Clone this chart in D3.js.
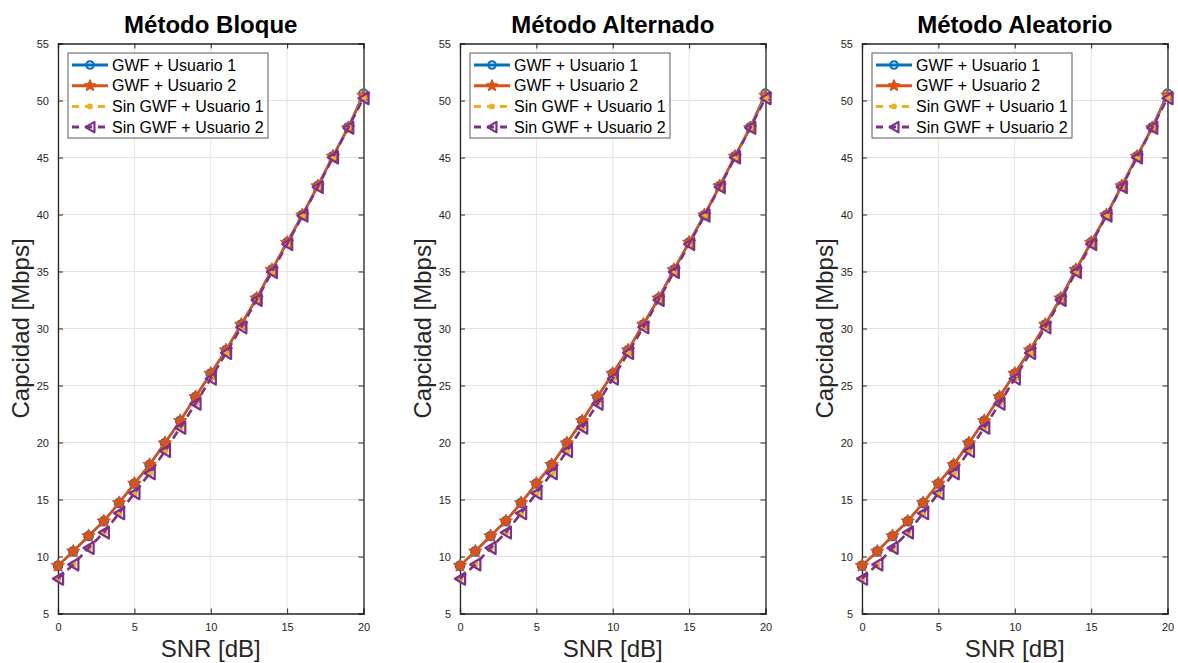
<!DOCTYPE html>
<html>
<head>
<meta charset="utf-8">
<script src="https://cdn.jsdelivr.net/npm/d3@7"></script>
<style>
  body { margin: 0; background: #fff; }
  svg { display: block; }
  text { font-family: Arial, "Liberation Sans", Helvetica, sans-serif; fill: #262626; }
</style>
</head>
<body>
<svg id="chart" width="1178" height="663"></svg>
<script>
// Panel titles
const methods = ["Método Bloque", "Método Alternado", "Método Aleatorio"];

// SNR sweep [dB]
const snr = [0, 1, 2, 3, 4, 5, 6, 7, 8, 9, 10, 11, 12, 13, 14, 15, 16, 17, 18, 19, 20];

// Capacity [Mbps] per user, with and without GWF
const gwfUser1 = [9.2, 10.45, 11.8, 13.1, 14.7, 16.4, 18.05, 19.95, 21.9, 24.0, 26.05,
                  28.1, 30.35, 32.65, 35.15, 37.55, 39.95, 42.5, 45.1, 47.65, 50.6];
const gwfUser2 = [9.2, 10.45, 11.8, 13.1, 14.7, 16.4, 18.05, 19.95, 21.9, 24.0, 26.05,
                  28.1, 30.35, 32.65, 35.15, 37.55, 39.95, 42.5, 45.1, 47.6, 50.45];
const sinUser1 = [8.05, 9.3, 10.75, 12.1, 13.8, 15.55, 17.3, 19.25, 21.3, 23.4, 25.6,
                  27.85, 30.1, 32.5, 34.95, 37.4, 39.9, 42.4, 45.0, 47.6, 50.3];
const sinUser2 = [8.05, 9.3, 10.75, 12.1, 13.8, 15.55, 17.3, 19.25, 21.3, 23.4, 25.6,
                  27.85, 30.1, 32.5, 34.95, 37.4, 39.9, 42.4, 45.0, 47.6, 50.2];

const seriesNames = ["GWF + Usuario 1", "GWF + Usuario 2", "Sin GWF + Usuario 1", "Sin GWF + Usuario 2"];

// Axis ticks
const xTicks = [0, 5, 10, 15, 20];
const yTicks = [5, 10, 15, 20, 25, 30, 35, 40, 45, 50, 55];

// Series styling
const series = [
  { name: seriesNames[0], values: gwfUser1, color: "#0072BD", dash: null, marker: "circle" },
  { name: seriesNames[1], values: gwfUser2, color: "#D95319", dash: null, marker: "star" },
  { name: seriesNames[2], values: sinUser1, color: "#EDB120", dash: "8,5", marker: "dot" },
  { name: seriesNames[3], values: sinUser2, color: "#7E2F8E", dash: "8,5", marker: "triangle" }
];

const svg = d3.select("#chart");

// Marker path builders (centered at 0,0)
function starPath(R) {
  const r = R * 0.45;
  const pts = [];
  for (let k = 0; k < 10; k++) {
    const a = -Math.PI / 2 + k * Math.PI / 5;
    const rad = k % 2 === 0 ? R : r;
    pts.push([rad * Math.cos(a), rad * Math.sin(a)]);
  }
  return "M" + pts.map(p => p.join(",")).join("L") + "Z";
}
function triLeftPath(h) {
  // left-pointing triangle
  const w = h * 0.85;
  return `M${-w / 2},0L${w / 2},${-h / 2}L${w / 2},${h / 2}Z`;
}

function drawMarker(g, type, color, scale) {
  const s = scale || 1;
  if (type === "circle") {
    g.append("circle").attr("r", 3.6 * s)
      .attr("fill", "none").attr("stroke", color).attr("stroke-width", 2);
  } else if (type === "star") {
    g.append("path").attr("d", starPath(5.6 * s))
      .attr("fill", color).attr("stroke", color).attr("stroke-width", 1.2)
      .attr("stroke-linejoin", "round");
  } else if (type === "dot") {
    g.append("circle").attr("r", 2.8 * s).attr("fill", color);
  } else if (type === "triangle") {
    g.append("path").attr("d", triLeftPath(10 * s))
      .attr("fill", "none").attr("stroke", color).attr("stroke-width", 2.2)
      .attr("stroke-linejoin", "round");
  }
}

const plotTop = 43.5, plotBottom = 613.5, panelW = 305.5, panelStep = 402;
const axisColor = "#262626", gridColor = "#e3e3e3";

methods.forEach((title, i) => {
  const left = 58 + i * panelStep;
  const right = left + panelW;

  const x = d3.scaleLinear().domain([0, 20]).range([left, right]);
  const y = d3.scaleLinear().domain([5, 55]).range([plotBottom, plotTop]);

  const g = svg.append("g");

  // grid
  g.append("g").selectAll("line").data(xTicks).join("line")
    .attr("x1", d => x(d)).attr("x2", d => x(d))
    .attr("y1", plotTop).attr("y2", plotBottom)
    .attr("stroke", gridColor).attr("stroke-width", 1);
  g.append("g").selectAll("line").data(yTicks).join("line")
    .attr("x1", left).attr("x2", right)
    .attr("y1", d => y(d)).attr("y2", d => y(d))
    .attr("stroke", gridColor).attr("stroke-width", 1);

  // axes (ticks inside, labels outside)
  const xAxis = d3.axisBottom(x).tickValues(xTicks).tickSize(-5).tickPadding(10).tickFormat(d3.format("d"));
  const yAxis = d3.axisLeft(y).tickValues(yTicks).tickSize(-5).tickPadding(9).tickFormat(d3.format("d"));
  const xTop = d3.axisTop(x).tickValues(xTicks).tickSize(-5).tickFormat("");
  const yRight = d3.axisRight(y).tickValues(yTicks).tickSize(-5).tickFormat("");

  [
    g.append("g").attr("transform", `translate(0,${plotBottom})`).call(xAxis),
    g.append("g").attr("transform", `translate(${left},0)`).call(yAxis),
    g.append("g").attr("transform", `translate(0,${plotTop})`).call(xTop),
    g.append("g").attr("transform", `translate(${right},0)`).call(yRight)
  ].forEach(a => {
    a.select(".domain").attr("stroke", axisColor).attr("stroke-width", 1.3);
    a.selectAll(".tick line").attr("stroke", axisColor).attr("stroke-width", 1);
    a.selectAll(".tick text").attr("font-size", 11).attr("fill", axisColor)
      .style("font-family", "Arial, 'Liberation Sans', sans-serif");
  });

  // series lines and markers
  const line = d3.line().x((d, k) => x(snr[k])).y(d => y(d));
  series.forEach(s => {
    g.append("path").datum(s.values)
      .attr("d", line)
      .attr("fill", "none")
      .attr("stroke", s.color)
      .attr("stroke-width", 2.5)
      .attr("stroke-linejoin", "round")
      .attr("stroke-dasharray", s.dash);
    s.values.forEach((v, k) => {
      const mg = g.append("g").attr("transform", `translate(${x(snr[k])},${y(v)})`);
      drawMarker(mg, s.marker, s.color, 1.2);
    });
  });

  // title
  g.append("text")
    .attr("x", (left + right) / 2).attr("y", 33)
    .attr("text-anchor", "middle")
    .attr("font-size", 24).attr("font-weight", "bold")
    .style("fill", "#000")
    .text(title);

  // axis labels
  g.append("text")
    .attr("x", (left + right) / 2).attr("y", 657)
    .attr("text-anchor", "middle")
    .attr("font-size", 24)
    .text("SNR [dB]");
  g.append("text")
    .attr("transform", `translate(${left - 29},${(plotTop + plotBottom) / 2}) rotate(-90)`)
    .attr("text-anchor", "middle")
    .attr("font-size", 24)
    .text("Capcidad [Mbps]");

  // legend
  const lx = left + 10, ly = plotTop + 9.5, lw = 200, lh = 85;
  const lg = g.append("g");
  lg.append("rect").attr("x", lx).attr("y", ly).attr("width", lw).attr("height", lh)
    .attr("fill", "#fff").attr("stroke", "#5a5a5a").attr("stroke-width", 1);
  series.forEach((s, k) => {
    const cy = ly + 12 + k * 20.7;
    lg.append("line")
      .attr("x1", lx + 4).attr("x2", lx + 40)
      .attr("y1", cy).attr("y2", cy)
      .attr("stroke", s.color).attr("stroke-width", 3)
      .attr("stroke-dasharray", s.dash ? "7,6" : null);
    const mg = lg.append("g").attr("transform", `translate(${lx + 22},${cy})`);
    drawMarker(mg, s.marker, s.color, 1.05);
    lg.append("text")
      .attr("x", lx + 44).attr("y", cy + 5.5)
      .attr("font-size", 16)
      .style("fill", "#000")
      .text(s.name);
  });
});
</script>
</body>
</html>
